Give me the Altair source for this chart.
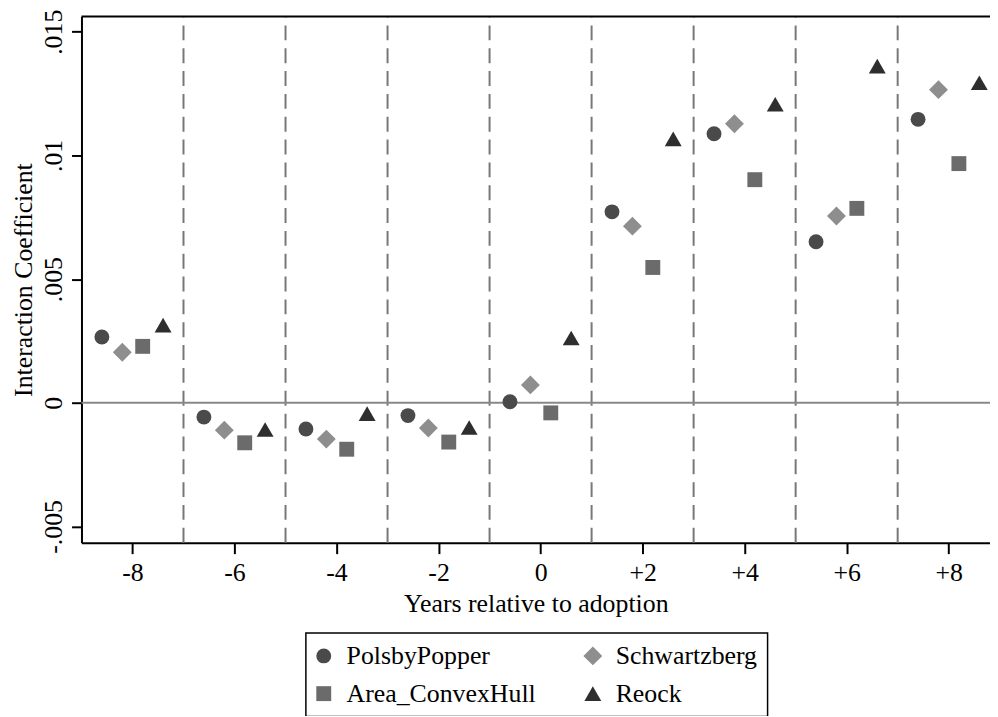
import altair as alt
import pandas as pd

# ---- data ----
years = [-8, -6, -4, -2, 0, 2, 4, 6, 8]
series = ["PolsbyPopper", "Schwartzberg", "Area_ConvexHull", "Reock"]
offsets = [-0.6, -0.2, 0.2, 0.6]
polsby = [0.00266, -0.00058, -0.00106, -0.00052, 0.00004, 0.00772, 0.01088, 0.00651, 0.01146]
schwartz = [0.00204, -0.00111, -0.00147, -0.00102, 0.00072, 0.00714, 0.01128, 0.00755, 0.01266]
area_hull = [0.00228, -0.00162, -0.00188, -0.00159, -0.00041, 0.00547, 0.00902, 0.00786, 0.00967]
reock = [0.00314, -0.00108, -0.00044, -0.00100, 0.00262, 0.01067, 0.01207, 0.01361, 0.01294]
values = [polsby, schwartz, area_hull, reock]

colors = ["#4a4a4a", "#8e8e8e", "#6b6b6b", "#2e2e2e"]
shapes = ["circle", "diamond", "square", "triangle-up"]
sizes = [225, 361, 225, 289]

boundaries = [-7, -5, -3, -1, 1, 3, 5, 7]
x_ticks = [-8, -6, -4, -2, 0, 2, 4, 6, 8]
y_ticks = [-0.005, 0, 0.005, 0.01, 0.015]
x_domain = [-9.0, 8.81]
y_domain = [-0.00566, 0.01562]

rows = []
for s, off, vals in zip(series, offsets, values):
    for yr, v in zip(years, vals):
        rows.append({"series": s, "xpos": yr + off, "coef": v})
df = pd.DataFrame(rows)

FONT = "Liberation Serif"
W, H = 915, 530

xscale = alt.Scale(domain=x_domain, nice=False, zero=False)
yscale = alt.Scale(domain=y_domain, nice=False, zero=False)

xaxis = alt.Axis(values=x_ticks, title="Years relative to adoption",
                 labelExpr="datum.value > 0 ? '+' + toString(datum.value) : toString(datum.value)",
                 grid=False, tickSize=11, labelPadding=6, titlePadding=5)
yaxis = alt.Axis(values=y_ticks, title="Interaction Coefficient",
                 labelExpr="replace(toString(datum.value), '0.', '.')",
                 grid=False, tickSize=10, labelPadding=10, labelAngle=270,
                 labelAlign="center", labelBaseline="alphabetic", titlePadding=4)

vlines = alt.Chart(pd.DataFrame({"b": boundaries})).mark_rule(
    color="#777777", strokeWidth=2, strokeDash=[15, 8]
).encode(
    x=alt.X("b:Q", scale=xscale, axis=xaxis),
    y=alt.datum(y_domain[0], scale=yscale, axis=yaxis),
    y2=alt.datum(y_domain[1]),
)

zero_line = alt.Chart(pd.DataFrame({"z": [0]})).mark_rule(
    color="#888888", strokeWidth=2
).encode(
    y=alt.Y("z:Q", scale=yscale),
    x=alt.datum(x_domain[0], scale=xscale),
    x2=alt.datum(x_domain[1]),
)

top_border = alt.Chart(pd.DataFrame({"t": [y_domain[1]]})).mark_rule(
    color="#000000", strokeWidth=2
).encode(
    y=alt.Y("t:Q", scale=yscale),
    x=alt.datum(x_domain[0], scale=xscale),
    x2=alt.datum(x_domain[1]),
)

leg = alt.Legend(title=None, orient="none", legendX=226, legendY=621,
                 direction="horizontal", columns=2)

points = alt.Chart(df).mark_point(filled=True, opacity=1, strokeWidth=0).encode(
    x=alt.X("xpos:Q", scale=xscale),
    y=alt.Y("coef:Q", scale=yscale),
    color=alt.Color("series:N", sort=series,
                    scale=alt.Scale(domain=series, range=colors), legend=leg),
    shape=alt.Shape("series:N", sort=series,
                    scale=alt.Scale(domain=series, range=shapes), legend=leg),
    size=alt.Size("series:N",
                  scale=alt.Scale(type="ordinal", domain=series, range=sizes),
                  legend=None),
)

chart = alt.layer(vlines, zero_line, top_border, points).properties(
    width=W, height=H,
    autosize=alt.AutoSizeParams(type="none"),
    padding={"left": 74, "top": 6, "right": 0, "bottom": 172},
).configure_view(stroke=None).configure_axis(
    labelFont=FONT, titleFont=FONT, labelFontSize=26, titleFontSize=26,
    labelColor="#000000", titleColor="#000000", titleFontWeight="normal",
    domainColor="#000000", domainWidth=2, tickColor="#000000", tickWidth=2,
).configure_legend(
    labelFont=FONT, labelFontSize=26, labelColor="#000000", symbolSize=200,
    symbolStrokeWidth=0, padding=10, rowPadding=12, columnPadding=47,
    symbolOffset=-5, labelOffset=10,
    strokeColor="#000000", strokeWidth=1.5, fillColor="#ffffff",
    labelLimit=400,
)

chart.save("out.html", embed_options={"renderer": "svg", "actions": False})
